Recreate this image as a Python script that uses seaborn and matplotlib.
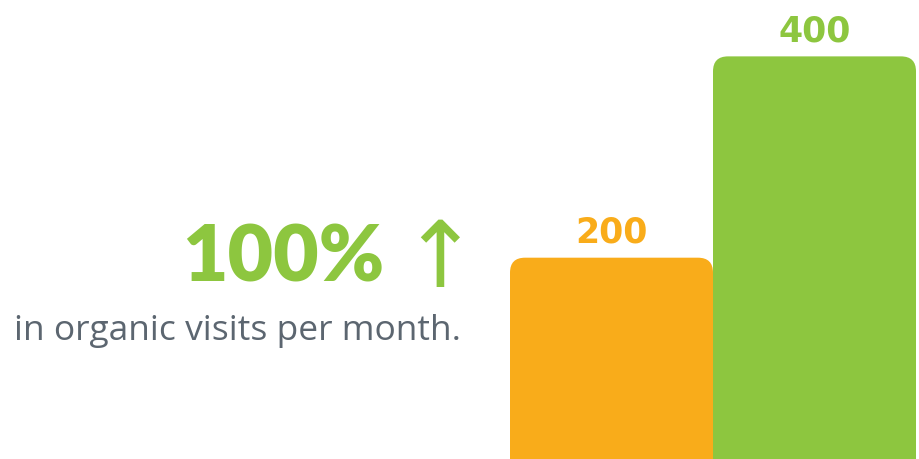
import matplotlib
matplotlib.use("Agg")
import matplotlib.pyplot as plt
import seaborn as sns
import pandas as pd
from matplotlib.patches import FancyBboxPatch
from matplotlib import font_manager as fm

periods = ["Before", "After"]
visits = [200, 400]
bar_colors = ["#F9AC1A", "#8DC63F"]
headline = "100%"
arrow = "\u2191"
subtitle = "in organic visits per month."

# pick the heaviest Lato file available for the headline
cands = [f for f in fm.fontManager.ttflist
         if f.name == "Lato" and f.style == "normal"]
def wnum(f):
    w = f.weight
    if isinstance(w, str):
        w = {"black": 900, "heavy": 800, "bold": 700}.get(w, 400)
    return w
cands.sort(key=wnum)
if cands:
    head_fp = fm.FontProperties(fname=cands[-1].fname, size=56.5)
else:
    head_fp = fm.FontProperties(family=["DejaVu Sans"], weight="bold", size=50)

W, H = 919, 460
fig = plt.figure(figsize=(W / 100, H / 100), dpi=100)
fig.patch.set_facecolor("white")

ax = fig.add_axes([510 / W, 0, 406 / W, 1])
df = pd.DataFrame({"period": periods, "visits": visits})
sns.barplot(data=df, x="period", y="visits", hue="period", palette=bar_colors,
            width=1.0, legend=False, ax=ax, saturation=1)
ax.set_xlim(-0.5, 1.5)
ax.set_ylim(0, 457)
ax.axis("off")

# replace bars with rounded-top versions
px_per_x = 406 / 2.0
r_px = 15
for p, c in zip(list(ax.patches), bar_colors):
    x, w, h = p.get_x(), p.get_width(), p.get_height()
    p.remove()
    fb = FancyBboxPatch((x, -40), w, h + 40,
                        boxstyle=f"round,pad=0,rounding_size={r_px / px_per_x}",
                        mutation_aspect=px_per_x * (457 / 460),
                        facecolor=c, edgecolor="none", clip_on=True)
    ax.add_patch(fb)

for i, (v, c) in enumerate(zip(visits, bar_colors)):
    ax.text(i, v + 26, str(v), ha="center", va="center", color=c,
            fontsize=25, fontweight="bold", family=["DejaVu Sans"])

fig.text(384 / W, 1 - 259 / H, headline, ha="right", va="center", color="#8DC63F",
         fontproperties=head_fp)
fig.text(440 / W, 1 - 261 / H, arrow, ha="center", va="center", color="#8DC63F",
         fontsize=66, fontweight="normal", family=["DejaVu Sans"])
fig.text(14 / W, 1 - 331 / H, subtitle, ha="left", va="center", color="#5C6670",
         fontsize=25.5, family=["Open Sans", "DejaVu Sans"])

fig.savefig("out.png", dpi=100, facecolor="white")
